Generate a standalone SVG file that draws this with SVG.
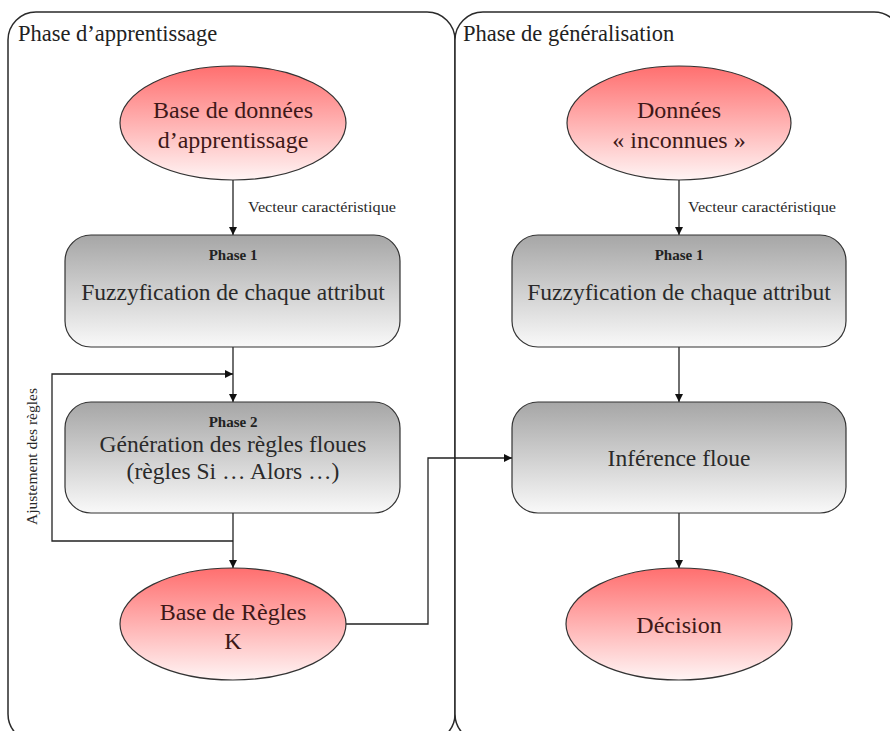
<svg xmlns="http://www.w3.org/2000/svg" width="890" height="731" viewBox="0 0 890 731">
<style>
.panel{fill:#fff;stroke:#2a2a2a;stroke-width:1.5}
.ell{fill:url(#gRed);stroke:#333;stroke-width:1.2}
.box{fill:url(#gGray);stroke:#333;stroke-width:1.2}
.title{font-family:"Liberation Serif",serif;font-size:22.5px;fill:#222}
.et{font-family:"Liberation Serif",serif;font-size:24px;fill:#3e1818;text-anchor:middle}
.bt{font-family:"Liberation Serif",serif;font-size:23.5px;fill:#2a2a2a;text-anchor:middle}
.ph{font-family:"Liberation Serif",serif;font-size:15px;font-weight:bold;fill:#222;text-anchor:middle}
.lbl{font-family:"Liberation Serif",serif;font-size:15px;fill:#2a2a2a}
.conn{fill:none;stroke:#222;stroke-width:1.3}
</style>
<defs>
<linearGradient id="gRed" x1="0" y1="0" x2="0" y2="1">
<stop offset="0" stop-color="#ff6f6f"/>
<stop offset="1" stop-color="#fff4f4"/>
</linearGradient>
<linearGradient id="gGray" x1="0" y1="0" x2="0" y2="1">
<stop offset="0" stop-color="#a6a6a6"/>
<stop offset="1" stop-color="#f9f9f9"/>
</linearGradient>
<marker id="arr" markerWidth="10" markerHeight="10" refX="9" refY="5" orient="auto" markerUnits="userSpaceOnUse">
<path d="M1,1 L9,5 L1,9 Z" fill="#111"/>
</marker>
</defs>

<g id="panel-apprentissage">
<rect class="panel" x="8" y="12" width="447" height="730" rx="28"/>
<text class="title" x="18" y="41">Phase d’apprentissage</text>
</g>
<g id="panel-generalisation">
<rect class="panel" x="455" y="12" width="447" height="730" rx="28"/>
<text class="title" x="463" y="41">Phase de généralisation</text>
</g>

<g id="connectors">
<line class="conn" x1="233" y1="180" x2="233" y2="235" marker-end="url(#arr)"/>
<line class="conn" x1="233" y1="347" x2="233" y2="402" marker-end="url(#arr)"/>
<polyline class="conn" points="233,541 52,541 52,374 233,374" marker-end="url(#arr)"/>
<line class="conn" x1="233" y1="513" x2="233" y2="568" marker-end="url(#arr)"/>
<polyline class="conn" points="345,624 428,624 428,458 512,458" marker-end="url(#arr)"/>
<line class="conn" x1="679" y1="180" x2="679" y2="235" marker-end="url(#arr)"/>
<line class="conn" x1="679" y1="347" x2="679" y2="402" marker-end="url(#arr)"/>
<line class="conn" x1="679" y1="513" x2="679" y2="568" marker-end="url(#arr)"/>
<text class="lbl" x="248" y="212" textLength="148" lengthAdjust="spacingAndGlyphs">Vecteur caractéristique</text>
<text class="lbl" x="688" y="212" textLength="148" lengthAdjust="spacingAndGlyphs">Vecteur caractéristique</text>
<text class="lbl" transform="translate(37,525) rotate(-90)" textLength="137" lengthAdjust="spacingAndGlyphs">Ajustement des règles</text>
</g>

<g id="bd-apprentissage">
<ellipse class="ell" cx="233" cy="123" rx="113" ry="57"/>
<text class="et" x="233" y="118">Base de données</text>
<text class="et" x="233" y="148">d’apprentissage</text>
</g>
<g id="phase1-left">
<rect class="box" x="65" y="235" width="335" height="112" rx="26"/>
<text class="ph" x="233" y="260">Phase 1</text>
<text class="bt" x="233" y="300">Fuzzyfication de chaque attribut</text>
</g>
<g id="phase2-left">
<rect class="box" x="65" y="402" width="335" height="111" rx="26"/>
<text class="ph" x="233" y="427">Phase 2</text>
<text class="bt" x="233" y="452">Génération des règles floues</text>
<text class="bt" x="233" y="479">(règles Si … Alors …)</text>
</g>
<g id="base-regles">
<ellipse class="ell" cx="233" cy="624" rx="113" ry="56"/>
<text class="et" x="233" y="620">Base de Règles</text>
<text class="et" x="233" y="649">K</text>
</g>
<g id="donnees-inconnues">
<ellipse class="ell" cx="679" cy="123" rx="112" ry="57"/>
<text class="et" x="679" y="118">Données</text>
<text class="et" x="679" y="148">« inconnues »</text>
</g>
<g id="phase1-right">
<rect class="box" x="512" y="235" width="334" height="112" rx="26"/>
<text class="ph" x="679" y="260">Phase 1</text>
<text class="bt" x="679" y="300">Fuzzyfication de chaque attribut</text>
</g>
<g id="inference">
<rect class="box" x="512" y="402" width="334" height="111" rx="26"/>
<text class="bt" x="679" y="466">Inférence floue</text>
</g>
<g id="decision">
<ellipse class="ell" cx="679" cy="624" rx="113" ry="56"/>
<text class="et" x="679" y="633">Décision</text>
</g>
</svg>
